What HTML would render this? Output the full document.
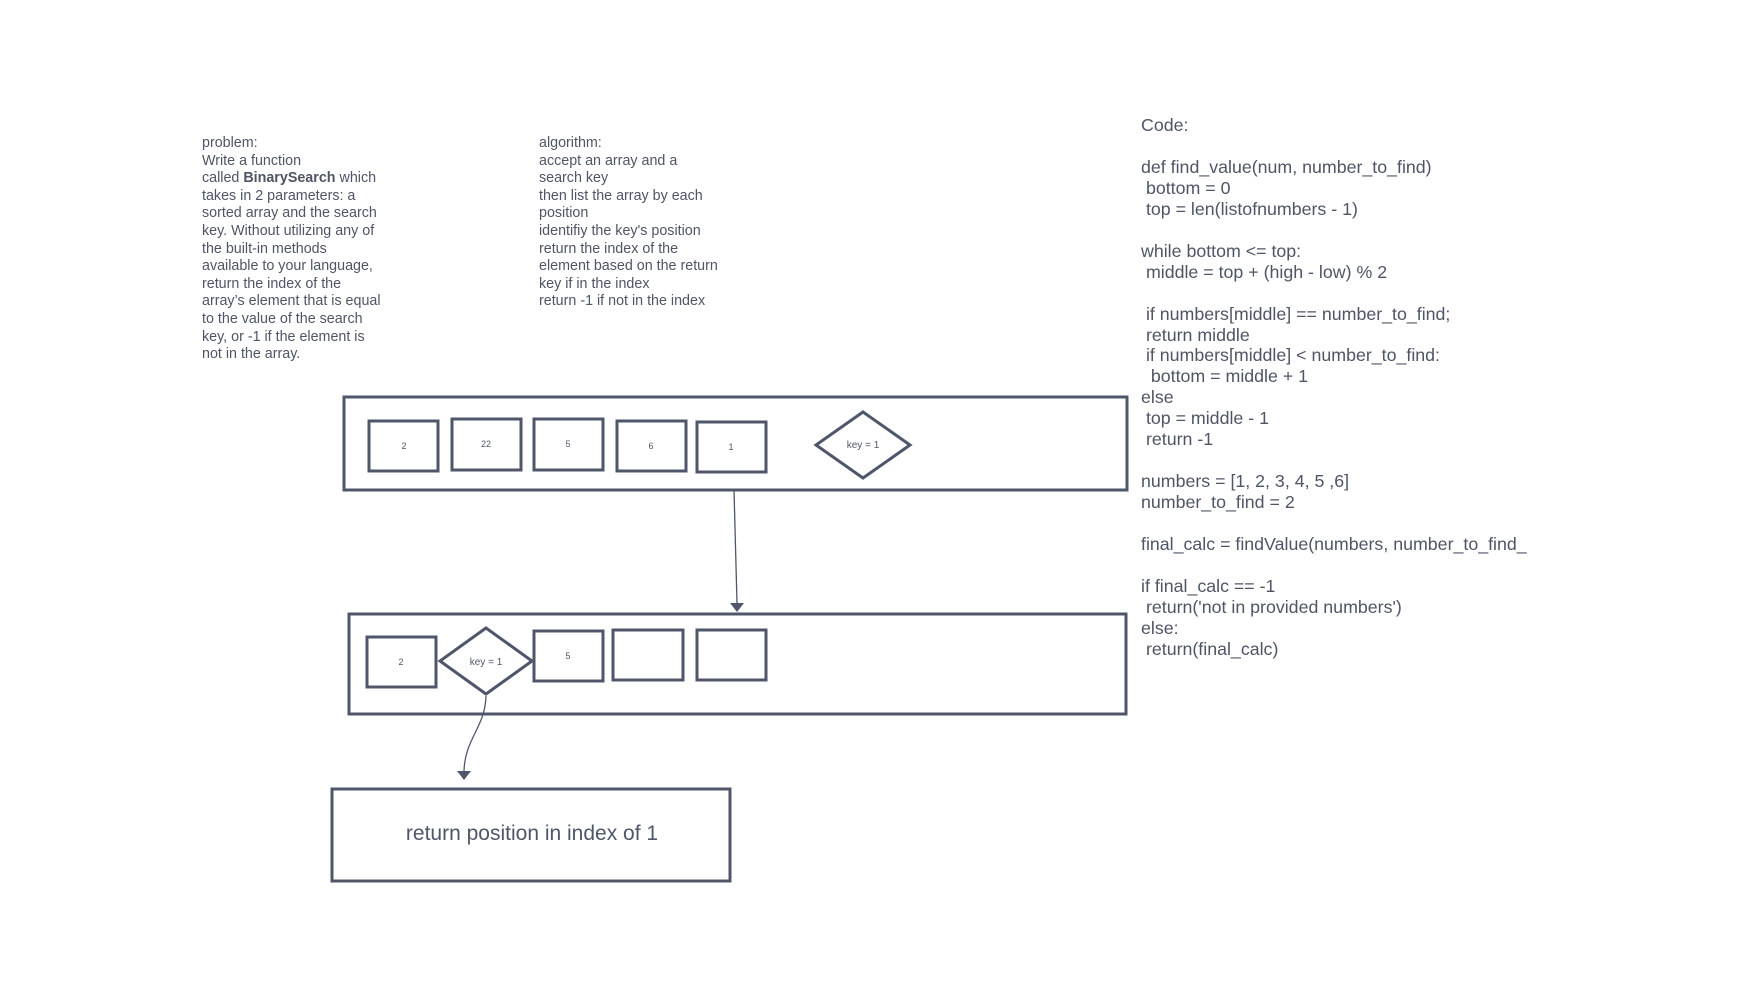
<!DOCTYPE html>
<html><head><meta charset="utf-8"><style>
body{margin:0;width:1740px;height:995px;background:#fff;overflow:hidden;position:relative;font-family:"Liberation Sans",sans-serif;color:#4f5565}
.t{position:absolute;white-space:pre;}
#p{left:202px;top:135px;font-size:14.3px;line-height:17.6px}
#a{left:539px;top:135px;font-size:14.3px;line-height:17.6px}
#c{left:1141px;top:115px;font-size:17.8px;line-height:20.95px}
svg{position:absolute;left:0;top:0}
</style></head><body>
<div class="t" id="p">problem:
Write a function
called <b>BinarySearch</b> which
takes in 2 parameters: a
sorted array and the search
key. Without utilizing any of
the built-in methods
available to your language,
return the index of the
array’s element that is equal
to the value of the search
key, or -1 if the element is
not in the array.</div>
<div class="t" id="a">algorithm:
accept an array and a
search key
then list the array by each
position
identifiy the key's position
return the index of the
element based on the return
key if in the index
return -1 if not in the index</div>
<div class="t" id="c">Code:

def find_value(num, number_to_find)
 bottom = 0
 top = len(listofnumbers - 1)

while bottom &lt;= top:
 middle = top + (high - low) % 2

 if numbers[middle] == number_to_find;
 return middle
 if numbers[middle] &lt; number_to_find:
  bottom = middle + 1
else
 top = middle - 1
 return -1

numbers = [1, 2, 3, 4, 5 ,6]
number_to_find = 2

final_calc = findValue(numbers, number_to_find_

if final_calc == -1
 return('not in provided numbers')
else:
 return(final_calc)</div>
<svg width="1740" height="995" font-family="Liberation Sans, sans-serif" fill="none" stroke="#50566a" stroke-width="3">
<rect x="344" y="397" width="783" height="93"/>
<rect x="369" y="421" width="69" height="50"/>
<rect x="452" y="419" width="69" height="51"/>
<rect x="534" y="419" width="69" height="51"/>
<rect x="617" y="421" width="69" height="50"/>
<rect x="697" y="422" width="69" height="50"/>
<polygon points="863,412 910,445 863,478 816,445"/>
<rect x="349" y="614" width="777" height="100"/>
<rect x="367" y="637" width="69" height="50"/>
<polygon points="486,628 532,661 486,694 440,661"/>
<rect x="534" y="631" width="69" height="50"/>
<rect x="613" y="630" width="70" height="50"/>
<rect x="697" y="630" width="69" height="50"/>
<rect x="332" y="789" width="398" height="92"/>
<path d="M734 490 L737 603" stroke-width="1.3"/>
<polygon points="730,603 744,603 737,612" fill="#50566a" stroke="none"/>
<path d="M486 696 C485 728 465 738 464 771" stroke-width="1.3"/>
<polygon points="457,771 471,771 464,780" fill="#50566a" stroke="none"/>
<g fill="#50566a" stroke="none" font-size="9" text-anchor="middle">
<text x="404" y="449">2</text><text x="486" y="447">22</text><text x="568" y="447">5</text><text x="651" y="449">6</text><text x="731" y="450">1</text>
<text x="863" y="448" font-size="10">key = 1</text>
<text x="401" y="665">2</text><text x="486" y="665" font-size="10">key = 1</text><text x="568" y="659">5</text>
<text x="532" y="840" font-size="21">return position in index of 1</text>
</g>
</svg>
</body></html>
